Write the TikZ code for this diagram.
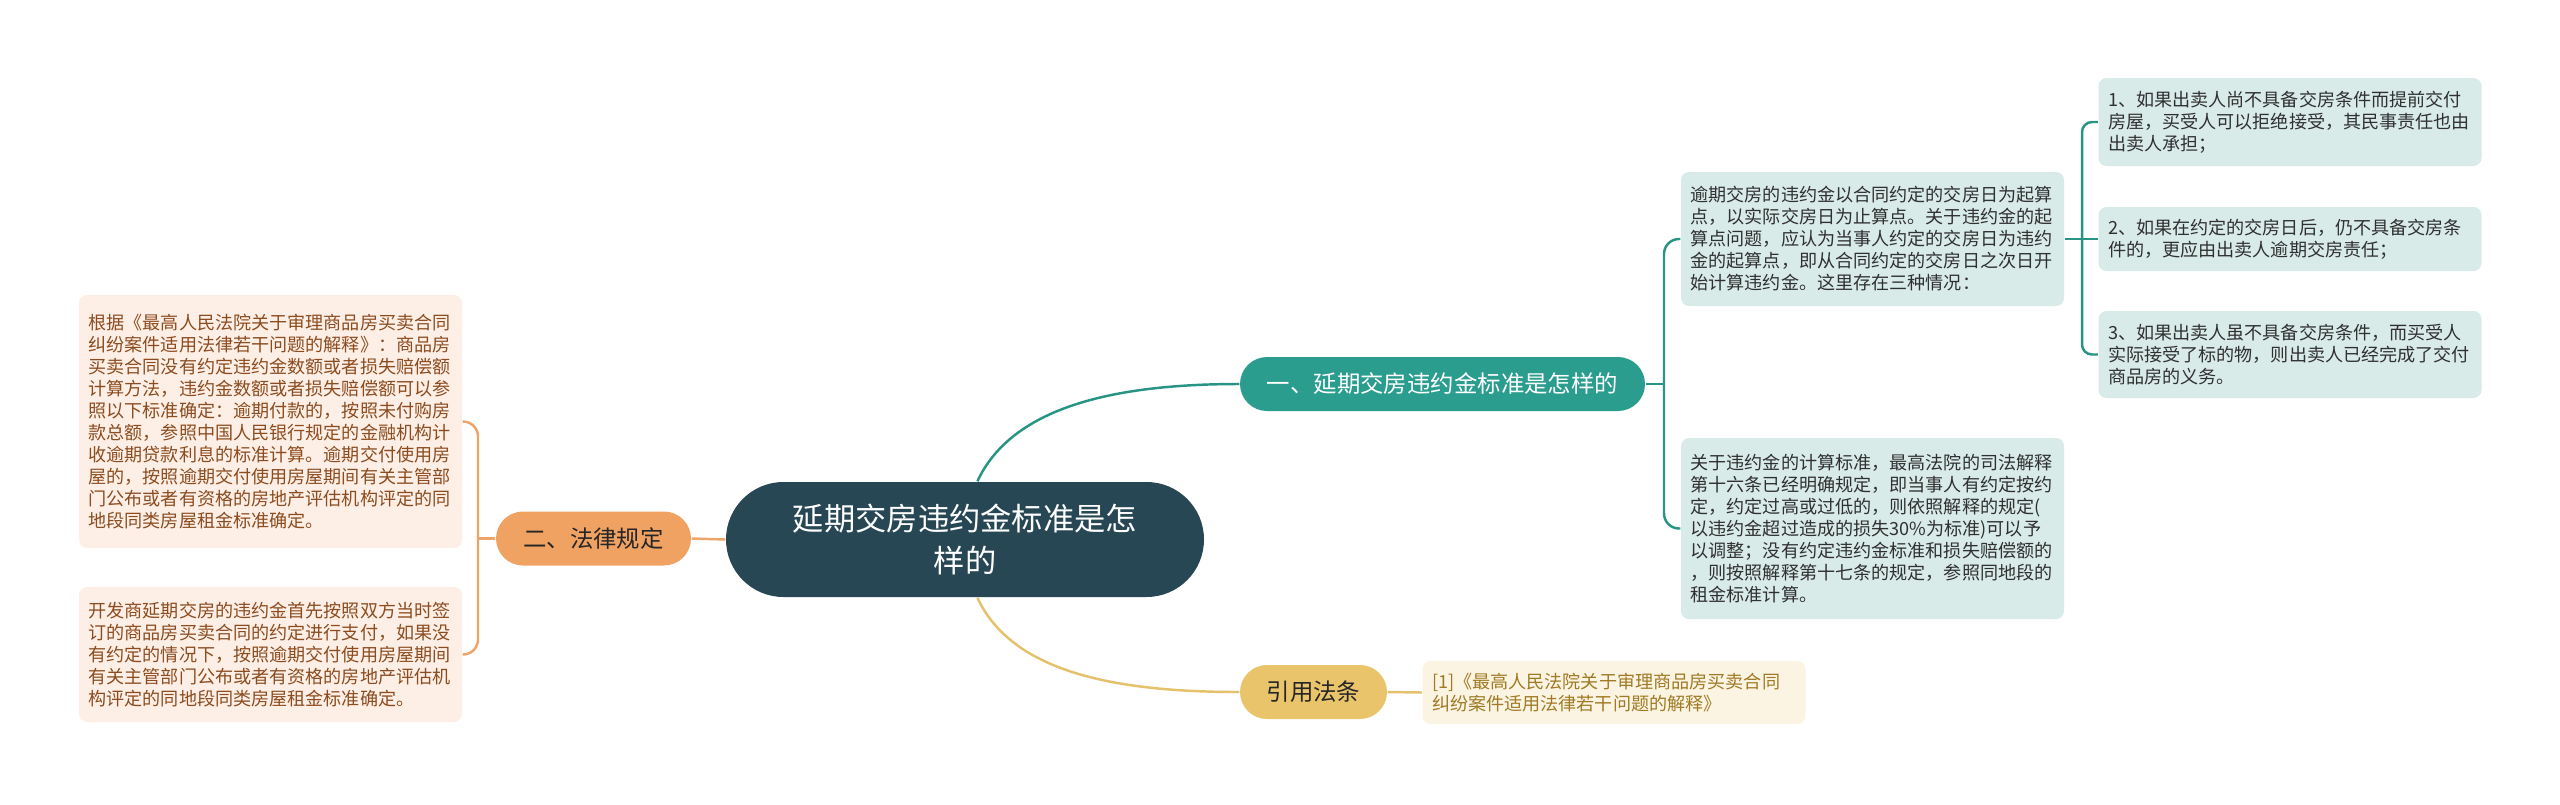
\documentclass[tikz,border=0pt]{standalone}
\usepackage{fontspec}
\setmainfont{Noto Sans CJK SC}

\definecolor{rootbg}{RGB}{40,71,84}
\definecolor{tealbg}{RGB}{42,157,143}
\definecolor{tealline}{RGB}{40,148,132}
\definecolor{tealleaf}{RGB}{216,235,233}
\definecolor{orangebg}{RGB}{240,162,98}
\definecolor{orangeline}{RGB}{236,164,104}
\definecolor{orangeleaf}{RGB}{253,239,229}
\definecolor{orangetext}{RGB}{140,76,32}
\definecolor{goldbg}{RGB}{233,196,106}
\definecolor{goldline}{RGB}{228,194,108}
\definecolor{goldleaf}{RGB}{251,244,227}
\definecolor{goldtext}{RGB}{160,122,36}
\definecolor{darktext}{RGB}{48,48,48}

\tikzset{
  pill/.style={rounded corners=0.27cm, minimum height=0.54cm, inner sep=0pt,
    font=\fontsize{6.66}{8}\selectfont},
  leaf/.style={rounded corners=0.08cm, align=left, text width=3.64cm,
    inner xsep=0.095cm, inner ysep=0pt, font=\fontsize{5.15}{6.26}\selectfont},
  tealleafbox/.style={leaf, fill=tealleaf, text=darktext},
  conn/.style={line width=0.7pt},
}

\begin{document}
\begin{tikzpicture}
    \useasboundingbox (0,0) rectangle (25.6,8.04);

    % Centre topic
    \node[fill=rootbg, text=white, rounded corners=0.575cm, minimum width=4.78cm,
      minimum height=1.15cm, align=center, font=\fontsize{8.9}{11.7}\selectfont]
      (root) at (9.65,2.645) {延期交房违约金标准是怎\\样的};

    % Branch nodes
    \node[pill, fill=tealbg, text=white, minimum width=4.05cm] (calc) at (14.425,4.20)
      {一、延期交房违约金标准是怎样的};
    \node[pill, fill=orangebg, text=black!85, minimum width=1.95cm] (law) at (5.935,2.655)
      {二、法律规定};
    \node[pill, fill=goldbg, text=black!85, minimum width=1.47cm] (ref) at (13.135,1.12)
      {引用法条};

    % Leaves of branch one
    \node[tealleafbox, minimum height=1.34cm] (start) at (18.725,5.65)
      {逾期交房的违约金以合同约定的交房日为起算\\点，以实际交房日为止算点。关于违约金的起\\算点问题，应认为当事人约定的交房日为违约\\金的起算点，即从合同约定的交房日之次日开\\始计算违约金。这里存在三种情况：};
    \node[tealleafbox, minimum height=1.81cm] (rate) at (18.725,2.755)
      {关于违约金的计算标准，最高法院的司法解释\\第十六条已经明确规定，即当事人有约定按约\\定，约定过高或过低的，则依照解释的规定(\\以违约金超过造成的损失30\%为标准)可以予\\以调整；没有约定违约金标准和损失赔偿额的\\，则按照解释第十七条的规定，参照同地段的\\租金标准计算。};
    \node[tealleafbox, minimum height=0.88cm] (case1) at (22.90,6.82)
      {1、如果出卖人尚不具备交房条件而提前交付\\房屋，买受人可以拒绝接受，其民事责任也由\\出卖人承担；};
    \node[tealleafbox, minimum height=0.64cm] (case2) at (22.90,5.65)
      {2、如果在约定的交房日后，仍不具备交房条\\件的，更应由出卖人逾期交房责任；};
    \node[tealleafbox, minimum height=0.87cm] (case3) at (22.90,4.495)
      {3、如果出卖人虽不具备交房条件，而买受人\\实际接受了标的物，则出卖人已经完成了交付\\商品房的义务。};

    % Leaves of branch two
    \node[leaf, fill=orangeleaf, text=orangetext, minimum height=2.53cm] (rule1) at (2.705,3.825)
      {根据《最高人民法院关于审理商品房买卖合同\\纠纷案件适用法律若干问题的解释》：商品房\\买卖合同没有约定违约金数额或者损失赔偿额\\计算方法，违约金数额或者损失赔偿额可以参\\照以下标准确定：逾期付款的，按照未付购房\\款总额，参照中国人民银行规定的金融机构计\\收逾期贷款利息的标准计算。逾期交付使用房\\屋的，按照逾期交付使用房屋期间有关主管部\\门公布或者有资格的房地产评估机构评定的同\\地段同类房屋租金标准确定。};
    \node[leaf, fill=orangeleaf, text=orangetext, minimum height=1.35cm] (rule2) at (2.705,1.495)
      {开发商延期交房的违约金首先按照双方当时签\\订的商品房买卖合同的约定进行支付，如果没\\有约定的情况下，按照逾期交付使用房屋期间\\有关主管部门公布或者有资格的房地产评估机\\构评定的同地段同类房屋租金标准确定。};

    % Leaf of branch three
    \node[leaf, fill=goldleaf, text=goldtext, minimum height=0.63cm] (cite) at (16.14,1.115)
      {[1]《最高人民法院关于审理商品房买卖合同\\纠纷案件适用法律若干问题的解释》};

    % Spines
    \coordinate (spinecalc) at (16.64,4.20);
    \coordinate (spinestart) at (20.82,5.65);
    \coordinate (spinelaw) at (4.78,2.655);

    % Root connectors
    \draw[conn, tealline] (root.78) .. controls +(65:0.8) and +(-1.3,0) .. (calc.west);
    \draw[conn, goldline] (root.-78) .. controls +(-65:0.8) and +(-1.3,0) .. (ref.west);
    \draw[conn, orangeline] (root.west) -- (law.east);

    % Branch connectors
    \draw[conn, tealline] (calc.east) -- (spinecalc);
    \draw[conn, tealline, rounded corners=0.15cm] (start.west) -| (spinecalc) |- (rate.west);
    \draw[conn, tealline] (start.east) -- (case2.west);
    \draw[conn, tealline, rounded corners=0.1cm] (case1.west) -| (spinestart) |- (case3.west);
    \draw[conn, orangeline] (law.west) -- (spinelaw);
    \draw[conn, orangeline, rounded corners=0.15cm] (rule1.east) -| (spinelaw) |- (rule2.east);
    \draw[conn, goldline] (ref.east) -- (cite.west);
\end{tikzpicture}
\end{document}
